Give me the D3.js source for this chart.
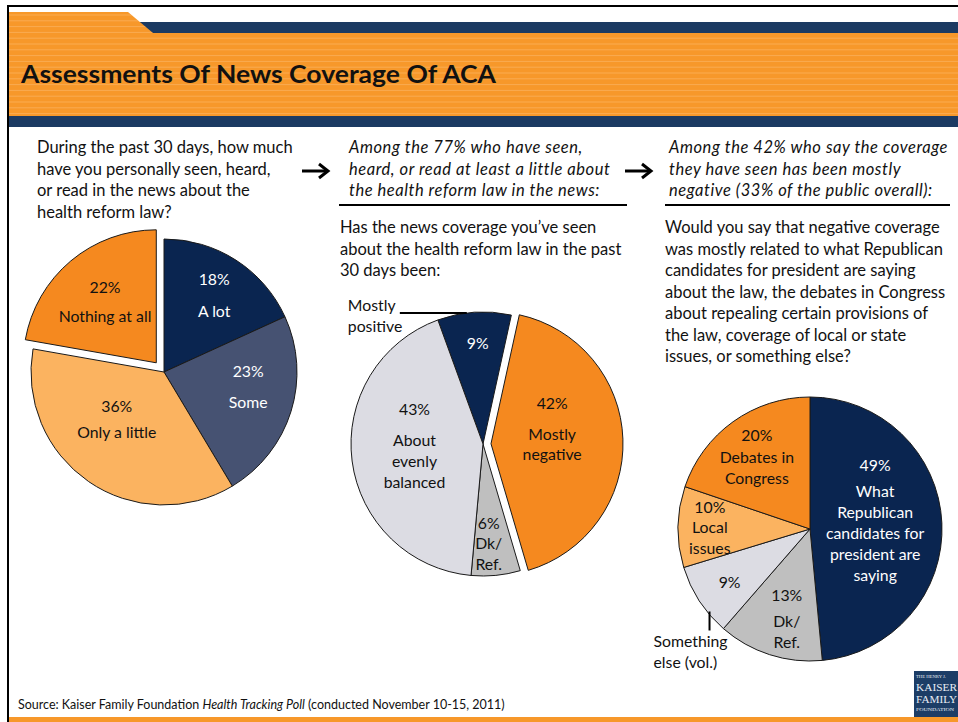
<!DOCTYPE html>
<html>
<head>
<meta charset="utf-8">
<script src="https://cdn.jsdelivr.net/npm/d3@7"></script>
<style>
  html, body { margin: 0; padding: 0; background: #fff; }
  svg { display: block; font-family: Lato, "Open Sans", sans-serif; }
</style>
</head>
<body>
<svg id="chart" width="958" height="722"></svg>
<script>
// ---- Survey results (percent of respondents) ----
const q1Categories = ["A lot", "Some", "Only a little", "Nothing at all"];
const q1Values = [18, 23, 36, 22];
const q1Labels = [["A lot"], ["Some"], ["Only a little"], ["Nothing at all"]];

const q2Categories = ["Mostly positive", "Mostly negative", "Dk/Ref.", "About evenly balanced"];
const q2Values = [9, 42, 6, 43];
const q2Labels = [[], ["Mostly", "negative"], ["Dk/", "Ref."], ["About", "evenly", "balanced"]];

const q3Categories = ["What Republican candidates for president are saying", "Dk/Ref.",
                      "Something else (vol.)", "Local issues", "Debates in Congress"];
const q3Values = [49, 13, 9, 10, 20];
const q3Labels = [["What", "Republican", "candidates for", "president are", "saying"],
                  ["Dk/", "Ref."], [], ["Local", "issues"], ["Debates in", "Congress"]];

// ---- Palette ----
const NAVY = "#0a2550", SLATE = "#465272", ORANGE = "#f5891f", LIGHT_ORANGE = "#fbb360",
      LIGHT_GREY = "#dcdce3", GREY = "#bfbfbf", BAND_ORANGE = "#f7982a", BAND_NAVY = "#1b3a62";
const q1Colors = [NAVY, SLATE, LIGHT_ORANGE, ORANGE];
const q2Colors = [NAVY, ORANGE, GREY, LIGHT_GREY];
const q3Colors = [NAVY, GREY, LIGHT_GREY, LIGHT_ORANGE, ORANGE];
const darkFill = new Set([NAVY, SLATE]);

const svg = d3.select("#chart");
const W = 958, H = 722;

// ---- Header band ----
const header = svg.append("g");
header.append("rect").attr("x", 135).attr("y", 22).attr("width", W - 135).attr("height", 11).attr("fill", BAND_NAVY);
header.append("path").attr("d", "M9,12 L128,12 L153,33 L9,33 Z").attr("fill", BAND_ORANGE);
header.append("rect").attr("x", 9).attr("y", 33).attr("width", W - 9).attr("height", 83).attr("fill", BAND_ORANGE);
header.append("rect").attr("x", 9).attr("y", 116).attr("width", W - 9).attr("height", 11).attr("fill", BAND_NAVY);
// faint horizontal pinstripes across the orange
const stripeClip = svg.append("clipPath").attr("id", "bandClip");
stripeClip.append("path").attr("d", "M9,12 L128,12 L153,33 L9,33 Z");
stripeClip.append("rect").attr("x", 9).attr("y", 33).attr("width", W - 9).attr("height", 83);
header.append("g").attr("clip-path", "url(#bandClip)")
  .selectAll("line").data(d3.range(15, 116, 5.8)).join("line")
  .attr("x1", 9).attr("x2", W).attr("y1", d => d).attr("y2", d => d)
  .attr("stroke", "#fcc483").attr("stroke-opacity", 0.45).attr("stroke-width", 1);
header.append("text").attr("x", 21).attr("y", 83)
  .attr("font-size", 24).attr("font-weight", 700).attr("fill", "#111")
  .attr("textLength", 475).attr("lengthAdjust", "spacingAndGlyphs")
  .text("Assessments Of News Coverage Of ACA");

// Frame
svg.append("line").attr("x1", 8).attr("x2", W).attr("y1", 6).attr("y2", 6).attr("stroke", "#000").attr("stroke-width", 2);
svg.append("line").attr("x1", 8).attr("x2", 8).attr("y1", 5).attr("y2", H).attr("stroke", "#000").attr("stroke-width", 2);

// ---- Question text ----
function textBlock(x, y0, lh, lines, opts = {}) {
  const t = svg.append("text").attr("font-size", opts.size || 16.5).attr("fill", "#111")
    .attr("font-style", opts.italic ? "italic" : "normal")
    .attr("letter-spacing", opts.spacing || 0);
  lines.forEach((s, i) => t.append("tspan").attr("x", x).attr("y", y0 + i * lh).text(s));
  return t;
}
const italicOpts = { italic: true, size: 16.5, spacing: 0.55 };
textBlock(37, 153, 21.5, ["During the past 30 days, how much", "have you personally seen, heard,",
  "or read in the news about the", "health reform law?"]);
textBlock(349, 153, 21.5, ["Among the 77% who have seen,", "heard, or read at least a little about",
  "the health reform law in the news:"], italicOpts);
textBlock(340, 233, 21.5, ["Has the news coverage you\u2019ve seen", "about the health reform law in the past",
  "30 days been:"]);
textBlock(669, 153, 21.5, ["Among the 42% who say the coverage", "they have seen has been mostly",
  "negative (33% of the public overall):"], italicOpts);
textBlock(665, 233, 21.5, ["Would you say that negative coverage", "was mostly related to what Republican",
  "candidates for president are saying", "about the law, the debates in Congress",
  "about repealing certain provisions of", "the law, coverage of local or state",
  "issues, or something else?"]);
svg.append("line").attr("x1", 339).attr("x2", 627).attr("y1", 205).attr("y2", 205).attr("stroke", "#000").attr("stroke-width", 2);
svg.append("line").attr("x1", 665).attr("x2", 950).attr("y1", 205).attr("y2", 205).attr("stroke", "#000").attr("stroke-width", 2);

// Flow arrows between the panels
function arrow(x1, x2, y) {
  const g = svg.append("g").attr("stroke", "#000").attr("stroke-width", 3).attr("fill", "none")
    .attr("stroke-linecap", "butt");
  g.append("line").attr("x1", x1).attr("x2", x2 - 2).attr("y1", y).attr("y2", y);
  g.append("path").attr("d", `M${x2 - 9},${y - 7} L${x2},${y} L${x2 - 9},${y + 7}`).attr("stroke-linejoin", "miter");
}
arrow(302, 328, 171);
arrow(625, 651, 171);

// ---- Pies ----
const deg = Math.PI / 180;
function drawPie(values, colors, labels, L) {
  const pie = d3.pie().sort(null).startAngle(L.start * deg).endAngle(L.start * deg + 2 * Math.PI);
  const arcs = pie(values);
  const arc = d3.arc().innerRadius(0).outerRadius(L.r);
  const g = svg.append("g").attr("transform", `translate(${L.cx},${L.cy})`);
  const offset = (d, i) => {
    if (i !== L.explode) return [0, 0];
    const m = (d.startAngle + d.endAngle) / 2;
    return [Math.sin(m) * L.explodeBy, -Math.cos(m) * L.explodeBy];
  };
  g.selectAll("path").data(arcs).join("path")
    .attr("d", arc)
    .attr("transform", (d, i) => `translate(${offset(d, i)})`)
    .attr("fill", (d, i) => colors[i])
    .attr("stroke", "#1a1a1a").attr("stroke-width", 1).attr("stroke-linejoin", "miter");

  const labelArc = d3.arc().innerRadius(L.r * 0.6).outerRadius(L.r * 0.6);
  arcs.forEach((d, i) => {
    const [ox, oy] = offset(d, i);
    const [c0, c1] = labelArc.centroid(d);
    const [nx, ny] = L.nudge[i];
    const x = c0 + ox + nx, y = c1 + oy + ny;
    const lines = labels[i];
    const total = lines.length ? L.gap[i] + (lines.length - 1) * L.lh : 0;
    const top = y - total / 2;
    const t = g.append("text").attr("text-anchor", "middle").attr("font-size", L.size)
      .attr("fill", darkFill.has(colors[i]) ? "#fff" : "#111");
    t.append("tspan").attr("x", x).attr("y", top).attr("dy", "0.35em").text(values[i] + "%");
    lines.forEach((s, k) => t.append("tspan").attr("x", x)
      .attr("y", top + L.gap[i] + k * L.lh).attr("dy", "0.35em").text(s));
  });
  return { g, arcs, arc };
}

const p1 = drawPie(q1Values, q1Colors, q1Labels, {
  cx: 164, cy: 372, r: 133, start: 0, explode: 3, explodeBy: 12, size: 15.8, lh: 21,
  nudge: [[7, -9], [8, -9], [-2, -18], [0, 0]], gap: [32, 31, 26, 29]
});
const p2 = drawPie(q2Values, q2Colors, q2Labels, {
  cx: 483, cy: 444, r: 132, start: -20, explode: 1, explodeBy: 8, size: 15.8, lh: 21,
  nudge: [[0, -22], [-18, -12], [-2, 21], [10, -8]], gap: [0, 31, 20, 31]
});
const p3 = drawPie(q3Values, q3Colors, q3Labels, {
  cx: 810, cy: 529, r: 132, start: 0, explode: -1, explodeBy: 0, size: 15.8, lh: 21,
  nudge: [[-14, -5], [1, 15], [-14, 10], [-21, 0], [-7, -8]], gap: [26, 26, 0, 20, 22]
});

// Callouts for the thin slices, anchored on the slice's outer edge
function edgePoint(cx, cy, r, angleDeg) {
  return [cx + r * Math.sin(angleDeg * deg), cy - r * Math.cos(angleDeg * deg)];
}
{
  const a = p2.arcs[0];
  const ang = (a.startAngle + (a.endAngle - a.startAngle) * 0.4) / deg;
  const [ex, ey] = edgePoint(483, 444, 132, ang);
  svg.append("line").attr("x1", ex - 67).attr("x2", ex).attr("y1", ey).attr("y2", ey)
    .attr("stroke", "#000").attr("stroke-width", 2);
  textBlock(ex - 119, ey - 2, 21, [q2Categories[0].split(" ")[0], q2Categories[0].split(" ")[1]], { size: 15.8 });
}
{
  const a = p3.arcs[2];
  const ang = (a.startAngle + (a.endAngle - a.startAngle) * 0.3) / deg;
  const [ex, ey] = edgePoint(810, 529, 130, ang);
  svg.append("line").attr("x1", ex).attr("x2", ex).attr("y1", ey).attr("y2", ey + 19)
    .attr("stroke", "#000").attr("stroke-width", 2);
  textBlock(ex - 56, ey + 36, 20.5, ["Something", "else (vol.)"], { size: 15.8 });
}

// ---- Footer ----
const src = svg.append("text").attr("x", 18).attr("y", 709).attr("font-size", 12.5).attr("fill", "#111");
src.append("tspan").text("Source: Kaiser Family Foundation ");
src.append("tspan").attr("font-style", "italic").text("Health Tracking Poll");
src.append("tspan").text(" (conducted November 10-15, 2011)");
svg.append("rect").attr("x", 9).attr("y", 717).attr("width", W - 9).attr("height", 5).attr("fill", BAND_ORANGE);

// Foundation mark
const logo = svg.append("g");
logo.append("rect").attr("x", 914).attr("y", 671).attr("width", 44).attr("height", 46).attr("fill", "#1c3d66");
const logoLines = [
  { t: "THE HENRY J.", y: 678, s: 4.5, w: 30 },
  { t: "KAISER", y: 691, s: 10, w: 41 },
  { t: "FAMILY", y: 703, s: 10, w: 41 },
  { t: "FOUNDATION", y: 711, s: 4.5, w: 38 }
];
logo.selectAll("text").data(logoLines).join("text")
  .attr("x", 916).attr("y", d => d.y).attr("font-size", d => d.s)
  .attr("textLength", d => d.w).attr("lengthAdjust", "spacingAndGlyphs")
  .attr("font-family", "Liberation Serif, serif").attr("fill", "#e8edf5")
  .text(d => d.t);
</script>
</body>
</html>
